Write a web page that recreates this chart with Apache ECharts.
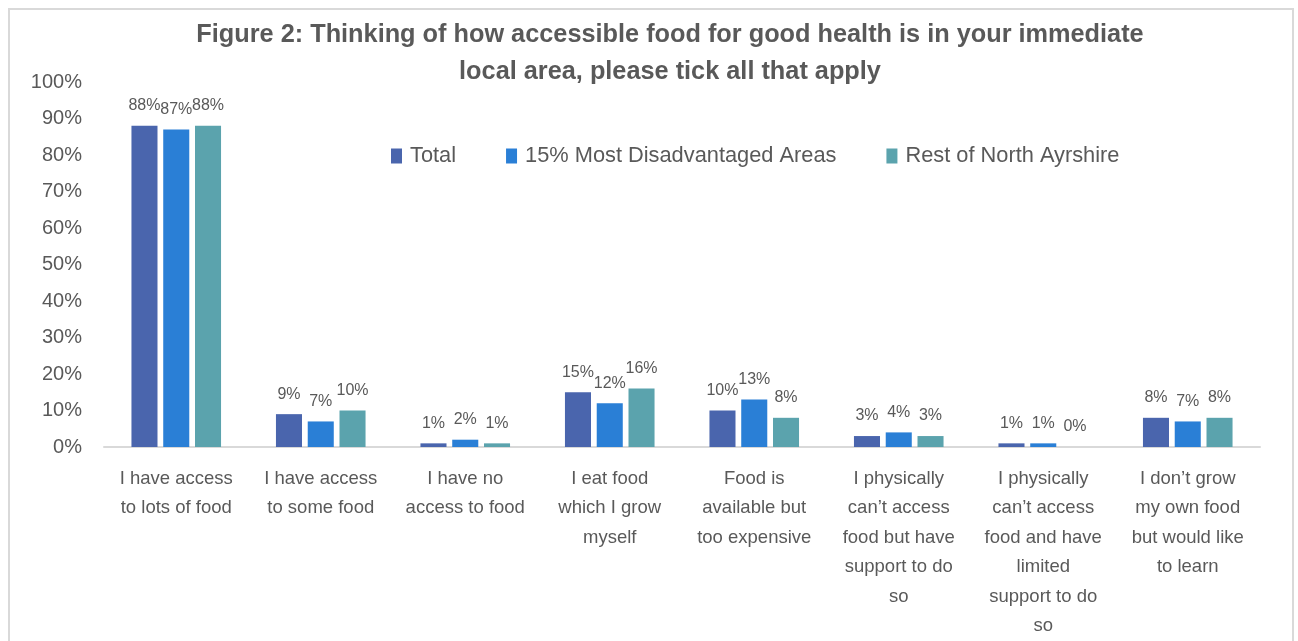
<!DOCTYPE html>
<html><head><meta charset="utf-8">
<script src="https://cdn.jsdelivr.net/npm/echarts@6/dist/echarts.min.js"></script>
<style>html,body{margin:0;padding:0;background:#fff;overflow:hidden}#c{width:1298px;height:641px}</style>
</head><body><div id="c"></div>
<script>
const categories = [
  "I have access\nto lots of food",
  "I have access\nto some food",
  "I have no\naccess to food",
  "I eat food\nwhich I grow\nmyself",
  "Food is\navailable but\ntoo expensive",
  "I physically\ncan’t access\nfood but have\nsupport to do\nso",
  "I physically\ncan’t access\nfood and have\nlimited\nsupport to do\nso",
  "I don’t grow\nmy own food\nbut would like\nto learn"
];
const seriesNames = ["Total", "15% Most Disadvantaged Areas", "Rest of North Ayrshire"];
const totalVals = [88, 9, 1, 15, 10, 3, 1, 8];
const disadvVals = [87, 7, 2, 12, 13, 4, 1, 7];
const restVals = [88, 10, 1, 16, 8, 3, 0, 8];
const colors = ["#4A65AD", "#2A7FD6", "#5BA3AD"];
const titleText = "Figure 2: Thinking of how accessible food for good health is in your immediate\nlocal area, please tick all that apply";

const FONT = "'Liberation Sans', Arial, sans-serif";
const TXT = "#595959";
const chart = echarts.init(document.getElementById('c'), null, {renderer: 'canvas'});
const mk = (name, data, color) => ({
  name, type: 'bar', data, barGap: '22%', barCategoryGap: '38%',
  itemStyle: {color},
  label: {show: true, position: 'top', distance: 12, formatter: '{c}%', color: TXT, fontSize: 16, fontFamily: FONT}
});
chart.setOption({
  animation: false,
  textStyle: {fontFamily: FONT},
  graphic: [{type: 'rect', shape: {x: 9, y: 9, width: 1284, height: 650}, style: {fill: 'none', stroke: '#D9D9D9', lineWidth: 2}}],
  title: {text: titleText, left: 665, textAlign: 'center', top: 12,
    textStyle: {color: TXT, fontSize: 25.3, fontWeight: 'bold', fontFamily: FONT, lineHeight: 37}},
  legend: {data: seriesNames, left: 386, top: 140, itemWidth: 11, itemHeight: 15, itemGap: 50, icon: 'rect',
    textStyle: {color: TXT, fontSize: 21.8, fontFamily: FONT, padding: [0, 0, 0, 3]}},
  grid: {left: 104, right: 38, top: 82, bottom: 182, containLabel: false},
  xAxis: {type: 'category', data: categories,
    axisLine: {lineStyle: {color: '#D9D9D9', width: 2}}, axisTick: {show: false},
    axisLabel: {color: TXT, fontSize: 18.5, fontFamily: FONT, interval: 0, lineHeight: 29.5, margin: 17}},
  yAxis: {type: 'value', min: 0, max: 100, interval: 10,
    axisLabel: {formatter: '{value}%', color: TXT, fontSize: 20, fontFamily: FONT, margin: 22},
    splitLine: {show: false}, axisLine: {show: false}, axisTick: {show: false}},
  series: [mk(seriesNames[0], totalVals, colors[0]), mk(seriesNames[1], disadvVals, colors[1]), mk(seriesNames[2], restVals, colors[2])]
});
</script></body></html>
